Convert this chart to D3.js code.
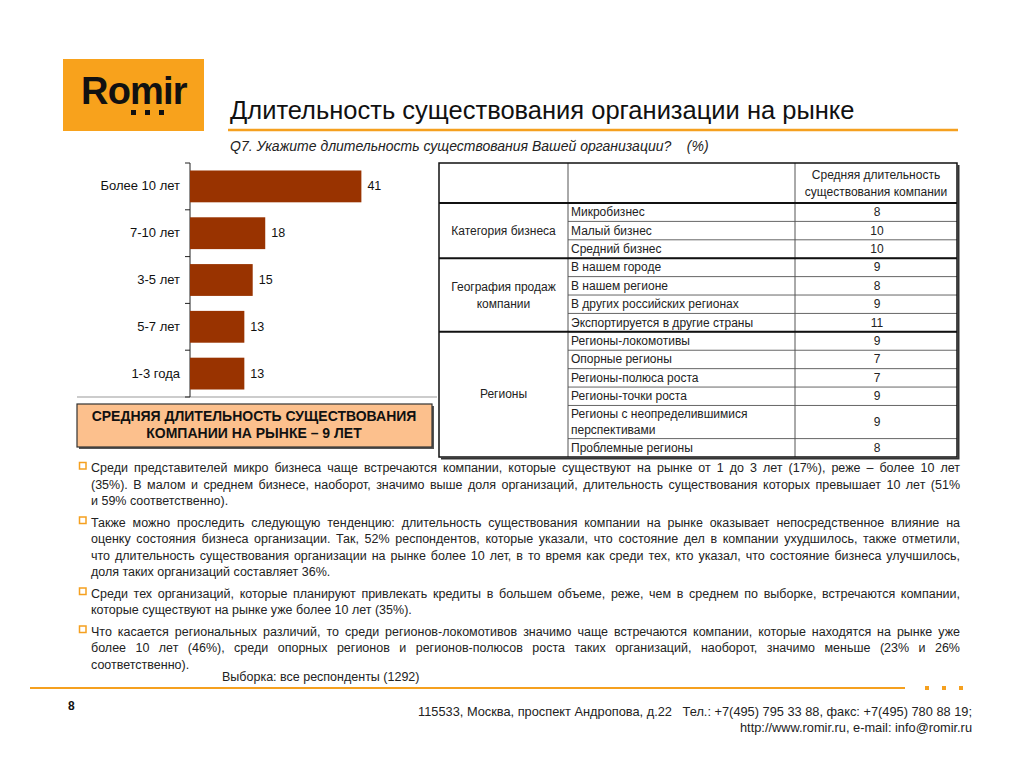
<!DOCTYPE html>
<html>
<head>
<meta charset="utf-8">
<script src="https://cdn.jsdelivr.net/npm/d3@7"></script>
<style>
  body { margin: 0; background: #fff; }
  svg { font-family: "Liberation Sans", Arial, sans-serif; }
</style>
</head>
<body>
<svg id="slide" width="1024" height="768"></svg>
<script>
// bar chart data
const categories = ["Более 10 лет", "7-10 лет", "3-5 лет", "5-7 лет", "1-3 года"];
const shares = [41, 18, 15, 13, 13];

// table data
const tableHeader = ["Средняя длительность", "существования компании"];
const groupLabels = ["Категория бизнеса", "География продаж\nкомпании", "Регионы"];
const rowGroup = [0, 0, 0, 1, 1, 1, 1, 2, 2, 2, 2, 2, 2];
const rowLabels = ["Микробизнес", "Малый бизнес", "Средний бизнес", "В нашем городе", "В нашем регионе",
    "В других российских регионах", "Экспортируется в другие страны", "Регионы-локомотивы",
    "Опорные регионы", "Регионы-полюса роста", "Регионы-точки роста",
    "Регионы с неопределившимися\nперспективами", "Проблемные регионы"];
const rowValues = [8, 10, 10, 9, 8, 9, 11, 9, 7, 7, 9, 9, 8];

// texts
const title = "Длительность существования организации на рынке";
const subtitle = "Q7. Укажите длительность существования Вашей организации?    (%)";
const summary = ["СРЕДНЯЯ ДЛИТЕЛЬНОСТЬ СУЩЕСТВОВАНИЯ", "КОМПАНИИ НА РЫНКЕ – 9 ЛЕТ"];
const bullets = [
    ["Среди представителей микро бизнеса чаще встречаются компании, которые существуют на рынке от 1 до 3 лет (17%), реже – более 10 лет",
     "(35%). В малом и среднем бизнесе, наоборот, значимо выше доля организаций, длительность существования которых превышает 10 лет (51%",
     "и 59% соответственно)."],
    ["Также можно проследить следующую тенденцию: длительность существования компании на рынке оказывает непосредственное влияние на",
     "оценку состояния бизнеса организации. Так, 52% респондентов, которые указали, что состояние дел в компании ухудшилось, также отметили,",
     "что длительность существования организации на рынке более 10 лет, в то время как среди тех, кто указал, что состояние бизнеса улучшилось,",
     "доля таких организаций составляет 36%."],
    ["Среди тех организаций, которые планируют привлекать кредиты в большем объеме, реже, чем в среднем по выборке, встречаются компании,",
     "которые существуют на рынке уже более 10 лет (35%)."],
    ["Что касается региональных различий, то среди регионов-локомотивов значимо чаще встречаются компании, которые находятся на рынке уже",
     "более 10 лет (46%), среди  опорных регионов и регионов-полюсов роста таких организаций, наоборот, значимо меньше (23% и 26%",
     "соответственно)."]
];
const sampleNote = "Выборка: все респонденты (1292)";
const pageNumber = "8";
const footer = ["115533, Москва, проспект Андропова, д.22   Тел.: +7(495) 795 33 88, факс: +7(495) 780 88 19;",
    "http://www.romir.ru, e-mail: info@romir.ru"];

const orange = "#F5A01F";
const svg = d3.select("#slide");

// logo
svg.append("rect").attr("x", 63).attr("y", 59).attr("width", 141).attr("height", 72).attr("fill", "#F8A21C");
svg.append("text").attr("x", 81).attr("y", 104).text("Romir")
    .attr("font-size", "38px").attr("font-weight", "bold").attr("letter-spacing", "-0.8px").attr("fill", "#111");
svg.selectAll(".logoDot").data([0, 1, 2]).join("rect").classed("logoDot", true)
    .attr("x", d => 131 + d * 14).attr("y", 110).attr("width", 5).attr("height", 5).attr("fill", "#111");

// header
svg.append("text").attr("x", 230).attr("y", 119).text(title)
    .attr("font-size", "25.5px").attr("fill", "#111");
svg.append("line").attr("x1", 228).attr("x2", 958).attr("y1", 130).attr("y2", 130)
    .style("stroke", orange).style("stroke-width", "2.5px");
svg.append("text").attr("x", 230).attr("y", 151).text(subtitle).attr("xml:space", "preserve")
    .attr("font-size", "14px").attr("font-style", "italic").attr("fill", "#222");

// bar chart
const yScale = d3.scaleBand().domain(categories).range([163, 397]).paddingInner(0.32).paddingOuter(0.16);
const xScale = d3.scaleLinear().domain([0, 50]).range([190, 399]);

svg.append("line").attr("x1", 77).attr("x2", 437).attr("y1", 397).attr("y2", 397)
    .style("stroke", "#999").style("stroke-width", "1px");
svg.append("line").attr("x1", 190).attr("x2", 190).attr("y1", 163).attr("y2", 397)
    .style("stroke", "#222").style("stroke-width", "1px");
svg.selectAll(".tick").data(d3.range(categories.length + 1)).join("line").classed("tick", true)
    .attr("x1", 185).attr("x2", 190)
    .attr("y1", d => 163 + d * yScale.step()).attr("y2", d => 163 + d * yScale.step())
    .style("stroke", "#222").style("stroke-width", "1px");

svg.selectAll(".bar").data(shares).join("rect").classed("bar", true)
    .attr("x", xScale(0))
    .attr("y", (d, i) => yScale(categories[i]))
    .attr("width", d => xScale(d) - xScale(0))
    .attr("height", yScale.bandwidth())
    .attr("fill", "#993300");

svg.selectAll(".valText").data(shares).join("text").classed("valText", true)
    .attr("x", d => xScale(d) + 6)
    .attr("y", (d, i) => yScale(categories[i]) + yScale.bandwidth() / 2 + 4)
    .text(d => d)
    .attr("font-size", "12.5px").attr("fill", "#111");

svg.selectAll(".catText").data(categories).join("text").classed("catText", true)
    .attr("x", 180)
    .attr("y", d => yScale(d) + yScale.bandwidth() / 2 + 4)
    .attr("text-anchor", "end")
    .text(d => d)
    .attr("font-size", "13px").attr("fill", "#111");

// summary box
svg.append("rect").attr("x", 79).attr("y", 406).attr("width", 355).attr("height", 43).attr("fill", "#555");
svg.append("rect").attr("x", 77).attr("y", 404).attr("width", 355).attr("height", 43)
    .attr("fill", "#FCC08D").style("stroke", "#333").style("stroke-width", "1.2px");
svg.selectAll(".summaryText").data(summary).join("text").classed("summaryText", true)
    .attr("x", 254).attr("y", (d, i) => 421 + i * 17)
    .attr("text-anchor", "middle").text(d => d)
    .attr("font-size", "14px").attr("font-weight", "bold").attr("fill", "#111");

// table
const colX = [439, 568, 795, 957];
const tTop = 163, tHead = 203, tBottom = 457;
const lineCount = rowLabels.map(d => d.split("\n").length);
const units = lineCount.map(n => 1 + 0.8 * (n - 1));
const cum = [0];
units.forEach(u => cum.push(cum[cum.length - 1] + u));
const rowScale = d3.scaleLinear().domain([0, cum[cum.length - 1]]).range([tHead, tBottom]);

const table = svg.append("g");
// thin inner row lines (cols 2-3)
table.selectAll(".rowLine").data(cum.slice(1, -1)).join("line").classed("rowLine", true)
    .attr("x1", colX[1]).attr("x2", colX[3])
    .attr("y1", d => rowScale(d)).attr("y2", d => rowScale(d))
    .style("stroke", "#666").style("stroke-width", "1px");
// column lines
table.selectAll(".colLine").data(colX.slice(1, 3)).join("line").classed("colLine", true)
    .attr("x1", d => d).attr("x2", d => d).attr("y1", tTop).attr("y2", tBottom)
    .style("stroke", "#555").style("stroke-width", "1px");
// group separators
const groupStarts = rowGroup.map((g, i) => i).filter(i => i > 0 && rowGroup[i] !== rowGroup[i - 1]);
table.selectAll(".groupLine").data([0].concat(groupStarts)).join("line").classed("groupLine", true)
    .attr("x1", colX[0]).attr("x2", colX[3])
    .attr("y1", d => rowScale(cum[d])).attr("y2", d => rowScale(cum[d]))
    .style("stroke", "#111").style("stroke-width", "2px");
// outer border with shadow
table.append("rect").attr("x", colX[0]).attr("y", tTop).attr("width", colX[3] - colX[0]).attr("height", tBottom - tTop)
    .attr("fill", "none").style("stroke", "#111").style("stroke-width", "1.5px");
table.append("path").attr("d", `M${colX[3] + 1.5},${tTop + 2}V${tBottom + 1.5}H${colX[0] + 2}`)
    .attr("fill", "none").style("stroke", "#333").style("stroke-width", "2px");

// header text
table.selectAll(".headText").data(tableHeader).join("text").classed("headText", true)
    .attr("x", (colX[2] + colX[3]) / 2).attr("y", (d, i) => 179 + i * 17)
    .attr("text-anchor", "middle").text(d => d)
    .attr("font-size", "12px").attr("fill", "#222");

// row labels and values
rowLabels.forEach((label, i) => {
    const top = rowScale(cum[i]), bottom = rowScale(cum[i + 1]);
    const lines = label.split("\n");
    const mid = (top + bottom) / 2;
    lines.forEach((l, j) => {
        table.append("text").attr("x", colX[1] + 3)
            .attr("y", mid + 4 + (j - (lines.length - 1) / 2) * 16)
            .text(l).attr("font-size", "12px").attr("fill", "#222");
    });
    table.append("text").attr("x", (colX[2] + colX[3]) / 2 + 1).attr("y", mid + 4)
        .attr("text-anchor", "middle").text(rowValues[i]).attr("font-size", "12px").attr("fill", "#222");
});

// group labels
groupLabels.forEach((label, g) => {
    const idx = rowGroup.map((d, i) => i).filter(i => rowGroup[i] === g);
    const top = rowScale(cum[idx[0]]), bottom = rowScale(cum[idx[idx.length - 1] + 1]);
    const lines = label.split("\n");
    lines.forEach((l, j) => {
        table.append("text").attr("x", (colX[0] + colX[1]) / 2)
            .attr("y", (top + bottom) / 2 + 4 + (j - (lines.length - 1) / 2) * 17)
            .attr("text-anchor", "middle").text(l).attr("font-size", "12px").attr("fill", "#222");
    });
});

// bullet paragraphs, justified word by word
const textLeft = 91, textRight = 960, lineGap = 16.5, paraExtra = 5;
let y = 472;
const measure = svg.append("text").attr("font-size", "12.5px");
function wordWidth(w) {
    measure.text(w);
    return measure.node().getComputedTextLength();
}
bullets.forEach(para => {
    svg.append("rect").attr("x", 79.5).attr("y", y - 9.5).attr("width", 6.5).attr("height", 6.5)
        .attr("fill", "#fff").style("stroke", orange).style("stroke-width", "1.5px");
    para.forEach((line, li) => {
        const t = svg.append("text").attr("y", y).attr("font-size", "12.5px").attr("fill", "#222");
        const words = line.split(/\s+/);
        const last = li === para.length - 1;
        if (last || words.length < 2) {
            t.attr("x", textLeft).text(line);
        } else {
            const widths = words.map(wordWidth);
            const gap = (textRight - textLeft - d3.sum(widths)) / (words.length - 1);
            let x = textLeft;
            words.forEach((w, k) => {
                t.append("tspan").attr("x", x).text(w);
                x += widths[k] + gap;
            });
        }
        y += lineGap;
    });
    y += paraExtra;
});
measure.remove();

svg.append("text").attr("x", 222).attr("y", 681).text(sampleNote)
    .attr("font-size", "12.5px").attr("fill", "#222");

// footer
svg.append("line").attr("x1", 30).attr("x2", 905).attr("y1", 688).attr("y2", 688)
    .style("stroke", orange).style("stroke-width", "2px");
svg.selectAll(".footDot").data([0, 1, 2]).join("rect").classed("footDot", true)
    .attr("x", d => 925 + d * 17).attr("y", 686).attr("width", 4).attr("height", 4).attr("fill", orange);
svg.append("text").attr("x", 68).attr("y", 710).text(pageNumber)
    .attr("font-size", "12px").attr("font-weight", "bold").attr("fill", "#111");
svg.selectAll(".footText").data(footer).join("text").classed("footText", true)
    .attr("x", 972).attr("y", (d, i) => 716 + i * 16).attr("text-anchor", "end")
    .attr("xml:space", "preserve").text(d => d)
    .attr("font-size", "12.8px").attr("fill", "#222");
</script>
</body>
</html>
